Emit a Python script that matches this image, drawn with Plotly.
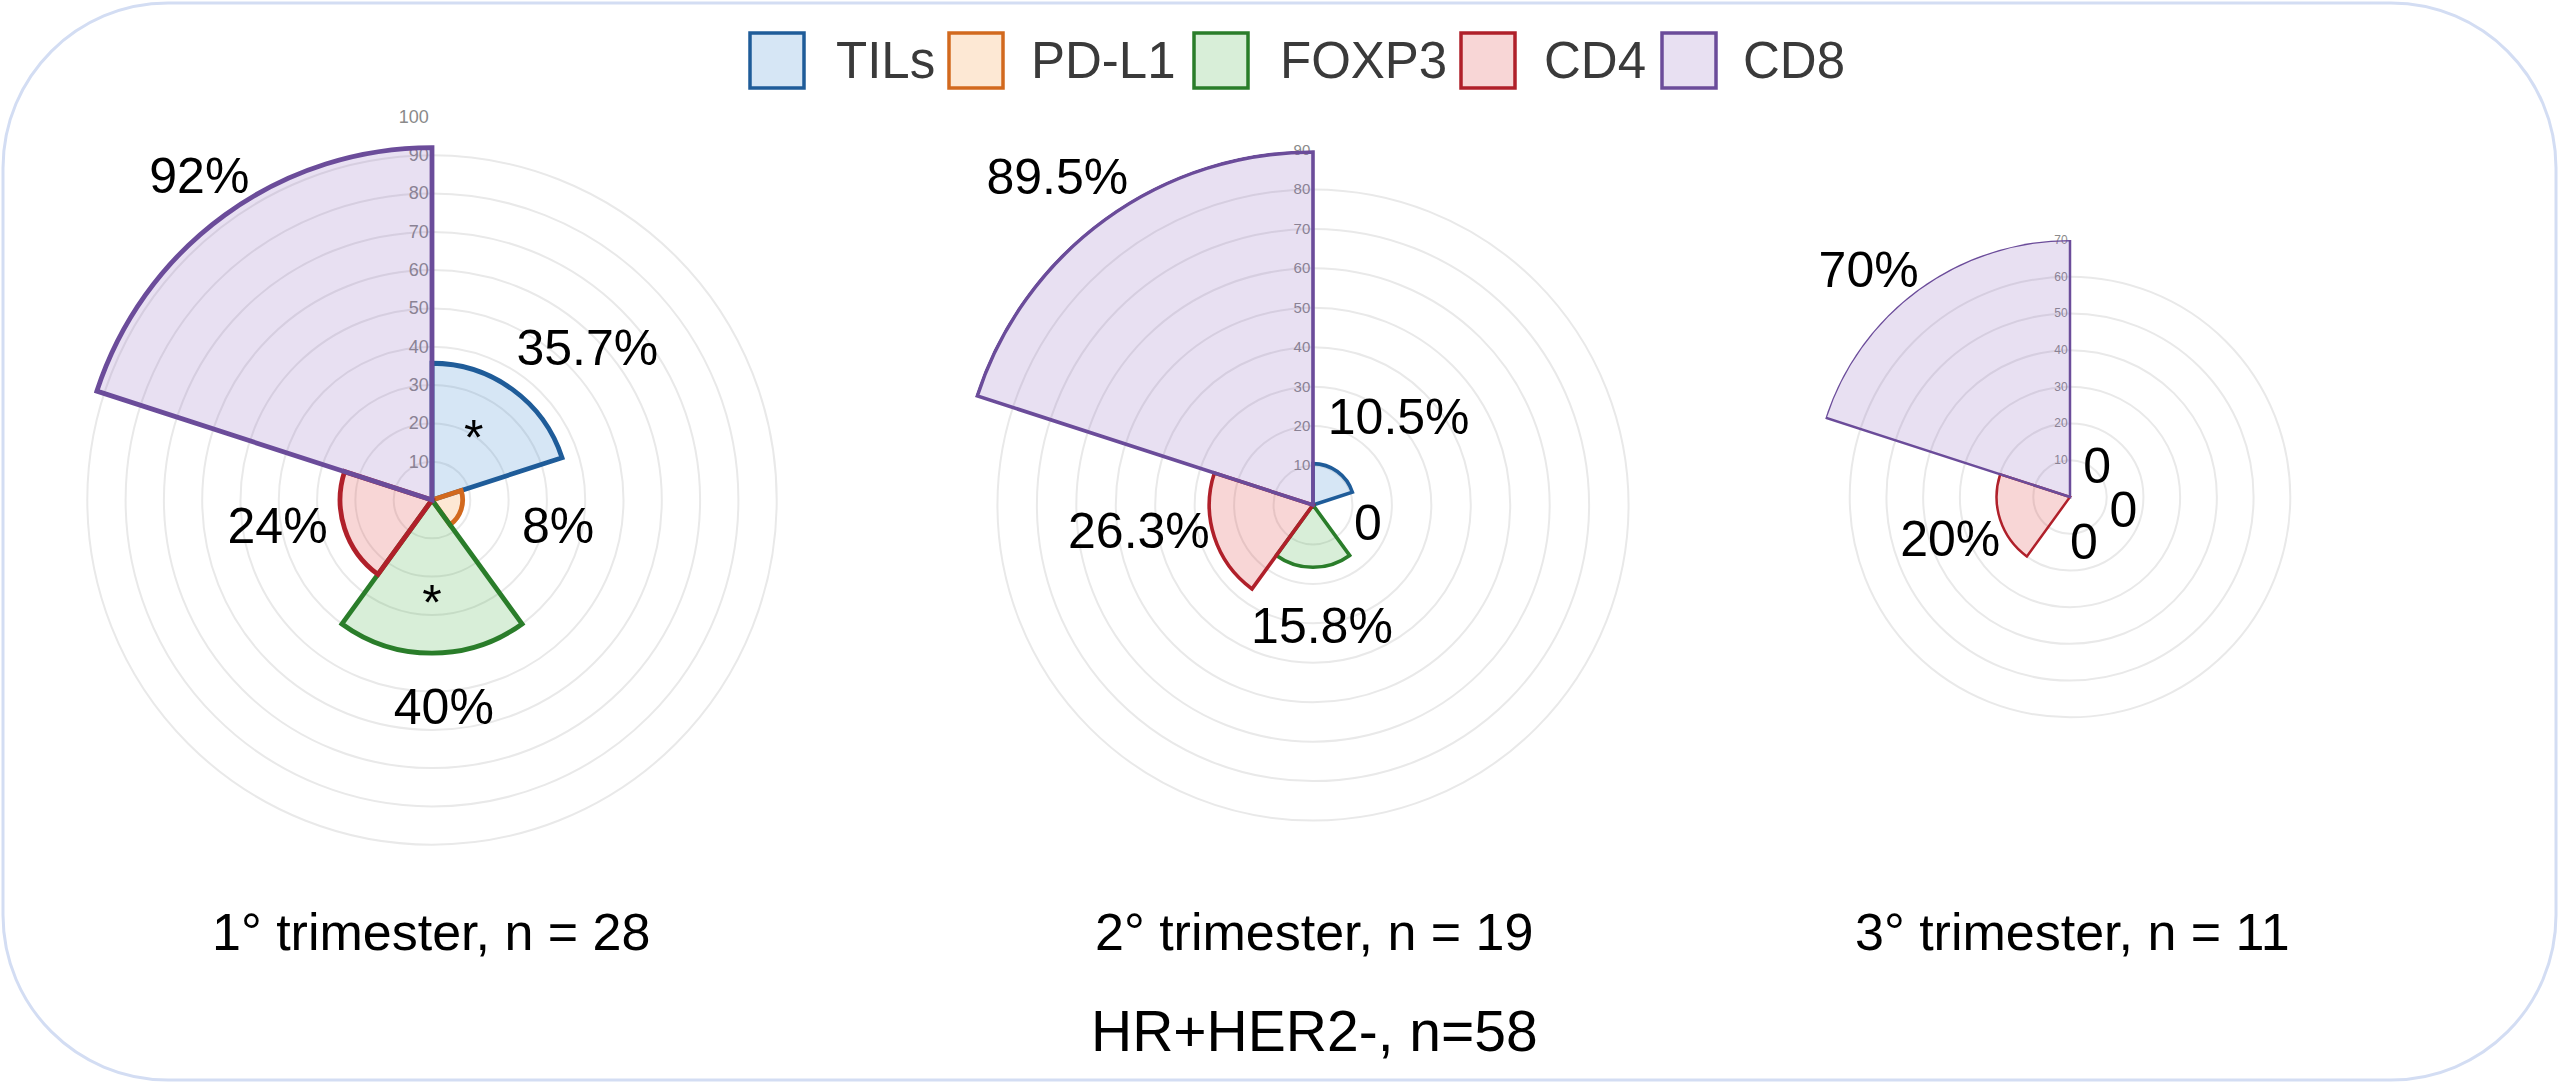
import plotly.graph_objects as go

# ---------------- data ----------------
categories = ["TILs", "PD-L1", "FOXP3", "CD4", "CD8"]
values_t1 = [35.7, 8, 40, 24, 92]
values_t2 = [10.5, 0, 15.8, 26.3, 89.5]
values_t3 = [0, 0, 0, 20, 70]
labels_t1 = ["35.7%", "8%", "40%", "24%", "92%"]
labels_t2 = ["10.5%", "0", "15.8%", "26.3%", "89.5%"]
labels_t3 = ["0", "0", "0", "20%", "70%"]
significant_t1 = ["TILs", "FOXP3"]
subtitles = ["1° trimester, n = 28", "2° trimester, n = 19", "3° trimester, n = 11"]
main_title = "HR+HER2-, n=58"
radial_max = [100, 90, 70]

# ---------------- style ----------------
W, H = 2559, 1084
line_colors = ["#1f5c99", "#d2691e", "#2a7d2a", "#b0202a", "#6b4c9a"]
fill_colors = ["rgba(70,140,210,0.22)", "rgba(245,150,60,0.22)", "rgba(60,170,60,0.20)",
               "rgba(220,60,60,0.21)", "rgba(140,100,190,0.20)"]
# polar placement in pixels: centre x, centre y, radius
polar_px = [(432, 500, 383), (1313, 505, 355), (2070, 497, 257)]
# label overlay polars extend the radial scale so labels may sit outside the data range
label_scale = [1.1, 1.25, 1.3]
line_widths = [4.8, 3.6, 2.5]
tick_font_sizes = [18, 15, 12]
# label placement (radius in data units, angle in degrees clockwise from top)
label_pos = [
    [(55.9, 46.5), (33.9, 103.6), (55.4, 176.8), (41.1, 258.8), (103.1, 323.9)],
    [(30.4, 45.6), (15.0, 112.1), (31.8, 175.9), (44.8, 260.1), (104.6, 321.7)],
    [(10.4, 45.4), (15.3, 107.9), (14.1, 164.3), (35.0, 248.7), (81.8, 317.9)],
]
star_pos = {"TILs": (18.5, 36), "FOXP3": (28.2, 180)}
sector_width = 360 / len(categories)
sector_theta = [i * sector_width + sector_width / 2 for i in range(len(categories))]

FONT = "Liberation Sans, Arial, Helvetica, sans-serif"

fig = go.Figure()
all_values = [values_t1, values_t2, values_t3]
all_labels = [labels_t1, labels_t2, labels_t3]
subplot_names = ["polar", "polar2", "polar3"]
label_subplots = ["polar4", "polar5", "polar6"]

for k, (vals, labs) in enumerate(zip(all_values, all_labels)):
    sp = subplot_names[k]
    for i, cat in enumerate(categories):
        fig.add_trace(go.Barpolar(
            r=[vals[i]], theta=[sector_theta[i]], width=[sector_width],
            name=cat, subplot=sp, showlegend=False,
            marker=dict(color=fill_colors[i],
                        line=dict(color=line_colors[i], width=line_widths[k])),
            hoverinfo="name+r",
        ))
    fig.add_trace(go.Scatterpolar(
        r=[p[0] for p in label_pos[k]], theta=[p[1] for p in label_pos[k]],
        text=labs, mode="text", subplot=label_subplots[k], showlegend=False, cliponaxis=False,
        textfont=dict(size=50, color="#000", family=FONT), hoverinfo="skip",
    ))

fig.add_trace(go.Scatterpolar(
    r=[star_pos[c][0] for c in significant_t1], theta=[star_pos[c][1] for c in significant_t1],
    text=["*"] * len(significant_t1), mode="text", subplot=label_subplots[0], showlegend=False,
    cliponaxis=False, textfont=dict(size=50, color="#000", family=FONT), hoverinfo="skip",
))


def domain_for(cx, cy, R):
    return dict(x=[(cx - R) / W, (cx + R) / W], y=[1 - (cy + R) / H, 1 - (cy - R) / H])


layout_polars = {}
for k, sp in enumerate(subplot_names):
    cx, cy, R = polar_px[k]
    rmax = radial_max[k]
    layout_polars[sp] = dict(
        domain=domain_for(cx, cy, R),
        bgcolor="rgba(0,0,0,0)",
        angularaxis=dict(rotation=90, direction="clockwise", showticklabels=False,
                         showgrid=False, showline=False, ticks=""),
        radialaxis=dict(range=[0, rmax], tickvals=list(range(10, rmax + 1, 10)),
                        angle=90, tickangle=90, side="counterclockwise", showline=False, ticks="",
                        gridcolor="#e9e9e9", gridwidth=1.5, layer="below traces",
                        tickfont=dict(size=tick_font_sizes[k], color="#8a8a8a", family=FONT)),
    )
    f = label_scale[k]
    layout_polars[label_subplots[k]] = dict(
        domain=domain_for(cx, cy, R * f),
        bgcolor="rgba(0,0,0,0)",
        angularaxis=dict(rotation=90, direction="clockwise", visible=False),
        radialaxis=dict(range=[0, rmax * f], visible=False),
    )


def px_x(v):
    return v / W


def px_y(v):
    return 1 - v / H


# rounded border
bx0, by0, bx1, by1, rad = 3, 3, 2556, 1080, 165
kap = 0.5523 * rad
path = (
    f"M {px_x(bx0 + rad)},{px_y(by0)} L {px_x(bx1 - rad)},{px_y(by0)} "
    f"C {px_x(bx1 - rad + kap)},{px_y(by0)} {px_x(bx1)},{px_y(by0 + rad - kap)} {px_x(bx1)},{px_y(by0 + rad)} "
    f"L {px_x(bx1)},{px_y(by1 - rad)} "
    f"C {px_x(bx1)},{px_y(by1 - rad + kap)} {px_x(bx1 - rad + kap)},{px_y(by1)} {px_x(bx1 - rad)},{px_y(by1)} "
    f"L {px_x(bx0 + rad)},{px_y(by1)} "
    f"C {px_x(bx0 + rad - kap)},{px_y(by1)} {px_x(bx0)},{px_y(by1 - rad + kap)} {px_x(bx0)},{px_y(by1 - rad)} "
    f"L {px_x(bx0)},{px_y(by0 + rad)} "
    f"C {px_x(bx0)},{px_y(by0 + rad - kap)} {px_x(bx0 + rad - kap)},{px_y(by0)} {px_x(bx0 + rad)},{px_y(by0)} Z"
)
shapes = [dict(type="path", xref="paper", yref="paper", path=path,
               line=dict(color="#d3ddf3", width=3), fillcolor="rgba(0,0,0,0)", layer="below")]

# legend drawn with large boxes to match the reference
legend_box_left = [750, 949, 1194, 1461, 1662]
legend_text_left = [834, 1029, 1278, 1542, 1741]
legend_box_w, legend_box_top, legend_box_bot, legend_mid = 54, 33, 88, 61
annotations = []
for i, cat in enumerate(categories):
    shapes.append(dict(type="rect", xref="paper", yref="paper",
                       x0=px_x(legend_box_left[i]), x1=px_x(legend_box_left[i] + legend_box_w),
                       y0=px_y(legend_box_bot), y1=px_y(legend_box_top),
                       fillcolor=fill_colors[i], line=dict(color=line_colors[i], width=3.5)))
    annotations.append(dict(text=cat, xref="paper", yref="paper", x=px_x(legend_text_left[i]),
                            y=px_y(legend_mid), xanchor="left", yanchor="middle", showarrow=False,
                            font=dict(size=51, color="#3a3a3a", family=FONT)))

subtitle_x = [431, 1314, 2072]
for k, s in enumerate(subtitles):
    annotations.append(dict(text=s, xref="paper", yref="paper", x=px_x(subtitle_x[k]), y=px_y(932),
                            xanchor="center", yanchor="middle", showarrow=False,
                            font=dict(size=52, color="#000", family=FONT)))
annotations.append(dict(text=main_title, xref="paper", yref="paper", x=px_x(1314), y=px_y(1031),
                        xanchor="center", yanchor="middle", showarrow=False,
                        font=dict(size=57, color="#000", family=FONT)))

fig.update_layout(
    width=W, height=H, margin=dict(l=0, r=0, t=0, b=0),
    paper_bgcolor="white", plot_bgcolor="white", showlegend=False,
    font=dict(family=FONT), shapes=shapes, annotations=annotations,
    **layout_polars,
)

fig.write_html("out.html", config={"displayModeBar": False},
               post_script="document.body.style.margin='0';document.body.style.overflow='hidden';")
